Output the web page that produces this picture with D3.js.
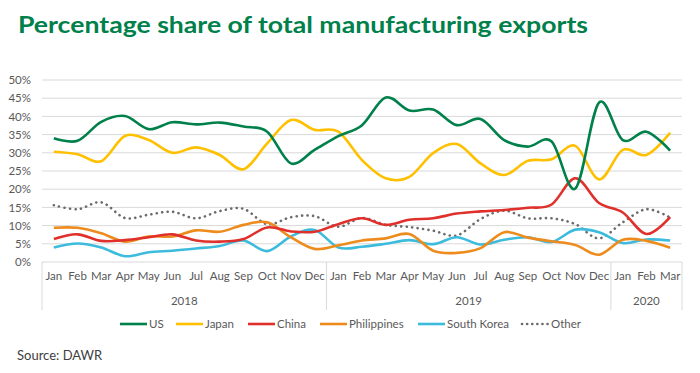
<!DOCTYPE html>
<html><head><meta charset="utf-8">
<script src="https://cdn.jsdelivr.net/npm/d3@7"></script>
<style>
html,body{margin:0;padding:0;background:#fff;}
svg{display:block;font-family:Lato,"Open Sans",sans-serif;}
</style></head>
<body>
<svg id="chart" width="700" height="373"></svg>
<script>
const months = ["Jan","Feb","Mar","Apr","May","Jun","Jul","Aug","Sep","Oct","Nov","Dec",
                "Jan","Feb","Mar","Apr","May","Jun","Jul","Aug","Sep","Oct","Nov","Dec",
                "Jan","Feb","Mar"];
const years = [{label:"2018", n:12},{label:"2019", n:12},{label:"2020", n:3}];
const yTicks = [0,5,10,15,20,25,30,35,40,45,50];

const us          = [34.0,33.3,38.5,40.1,36.5,38.4,37.8,38.3,37.2,35.8,27.1,30.8, 34.6,37.6,45.2,41.6,41.9,37.6,39.3,33.5,31.7,33.1,20.2,43.8, 33.5,35.8,30.6];
const japan       = [30.3,29.6,27.7,34.6,33.5,30.0,31.5,29.4,25.5,32.6,39.0,36.3, 35.8,28.0,23.0,23.4,29.9,32.4,27.1,23.9,27.8,28.2,31.9,22.7, 30.8,29.4,35.5];
const china       = [6.3,7.6,5.8,6.0,6.8,7.6,5.9,5.6,6.3,9.5,8.4,8.3, 10.4,12.0,10.2,11.6,12.0,13.3,13.9,14.3,14.9,15.8,23.0,16.2, 13.6,7.7,12.3];
const philippines = [9.4,9.4,7.9,5.6,7.0,7.0,8.7,8.3,10.2,10.9,6.8,3.6, 4.6,5.9,6.5,7.7,3.1,2.5,3.8,8.2,6.7,5.7,4.7,2.0, 6.1,5.8,3.9];
const southKorea  = [4.0,5.1,4.0,1.6,2.7,3.1,3.7,4.4,5.9,3.0,7.0,8.8, 4.0,4.2,5.0,6.0,4.9,6.8,4.8,6.1,6.8,5.5,8.9,8.2, 5.2,6.2,5.9];
const other       = [15.6,14.5,16.4,12.1,13.0,13.8,12.0,14.0,14.6,10.4,12.3,12.6, 9.7,12.1,10.2,9.6,8.6,7.3,11.8,14.1,12.0,12.0,10.4,6.5, 10.9,14.5,12.2];

const series = [
  {name:"US", values:us, color:"#00804a"},
  {name:"Japan", values:japan, color:"#ffc000"},
  {name:"China", values:china, color:"#e0302b"},
  {name:"Philippines", values:philippines, color:"#ee8b1d"},
  {name:"South Korea", values:southKorea, color:"#3dbbdc"},
  {name:"Other", values:other, color:"#6b6b6b", dotted:true}
];

const svg = d3.select("#chart");
const pLeft = 42, pRight = 682, pTop = 80, pBottom = 262;
const x = d3.scaleBand().domain(d3.range(months.length)).range([pLeft, pRight]).paddingInner(0).paddingOuter(0);
const y = d3.scaleLinear().domain([0,50]).range([pBottom, pTop]);

// title
svg.append("text").attr("x",18).attr("y",33)
  .attr("fill","#00804a").attr("font-weight","bold").attr("font-size",23.5)
  .attr("textLength",570).attr("lengthAdjust","spacingAndGlyphs")
  .text("Percentage share of total manufacturing exports");

// gridlines
svg.append("g").selectAll("line").data(yTicks.filter(d=>d>0)).join("line")
  .attr("x1",pLeft).attr("x2",pRight).attr("y1",d=>y(d)).attr("y2",d=>y(d))
  .attr("stroke","#d9d9d9").attr("stroke-width",1);

// y axis labels
const yAxis = d3.axisLeft(y).tickValues(yTicks).tickFormat(d=>d+"%").tickSize(0).tickPadding(11);
const gy = svg.append("g").attr("transform",`translate(${pLeft},0)`).call(yAxis);
gy.select(".domain").remove();
gy.selectAll("text").attr("fill","#595959").attr("font-size",11.5).attr("font-family","Lato,sans-serif");

// x axis baseline
svg.append("line").attr("x1",pLeft).attr("x2",pRight).attr("y1",pBottom).attr("y2",pBottom)
  .attr("stroke","#d9d9d9").attr("stroke-width",1);

// month labels
const xAxis = d3.axisBottom(x).tickFormat(i=>months[i]).tickSize(0).tickPadding(10);
const gx = svg.append("g").attr("transform",`translate(0,${pBottom})`).call(xAxis);
gx.select(".domain").remove();
gx.selectAll("text").attr("fill","#595959").attr("font-size",11.5).attr("font-family","Lato,sans-serif");

// year groups
let start = 0;
const bounds = [0];
years.forEach(yr => {
  const x0 = x(start), x1 = x(start + yr.n - 1) + x.bandwidth();
  svg.append("text").attr("x",(x0+x1)/2).attr("y",305).attr("text-anchor","middle")
    .attr("fill","#595959").attr("font-size",11.5).text(yr.label);
  start += yr.n;
  bounds.push(start);
});
svg.append("g").selectAll("line").data(bounds).join("line")
  .attr("x1",i=> i===months.length ? pRight : x(i)).attr("x2",i=> i===months.length ? pRight : x(i))
  .attr("y1",pBottom).attr("y2",310)
  .attr("stroke","#d9d9d9").attr("stroke-width",1);

// lines
const line = d3.line().x((d,i)=>x(i)+x.bandwidth()/2).y(d=>y(d)).curve(d3.curveCardinal.tension(0));
const order = ["Other","South Korea","Philippines","China","Japan","US"];
order.forEach(n=>{
  const s = series.find(d=>d.name===n);
  svg.append("path").datum(s.values).attr("d",line)
    .attr("fill","none").attr("stroke",s.color).attr("stroke-width",2.6)
    .attr("stroke-linecap", s.dotted ? "round" : "butt")
    .attr("stroke-dasharray", s.dotted ? "0.1,5.4" : null);
});

// legend
const legendX = [120,176,248,320,418,522];
const lg = svg.append("g");
series.forEach((s,i)=>{
  const g = lg.append("g").attr("transform",`translate(${legendX[i]},324)`);
  g.append("line").attr("x1",0).attr("x2",27).attr("y1",0).attr("y2",0)
    .attr("stroke",s.color).attr("stroke-width",2.6)
    .attr("stroke-linecap", s.dotted ? "round" : "butt")
    .attr("stroke-dasharray", s.dotted ? "0.1,5" : null);
  g.append("text").attr("x",29).attr("y",4).attr("fill","#595959").attr("font-size",11.5).text(s.name);
});

// source
svg.append("text").attr("x",17).attr("y",360).attr("fill","#404040").attr("font-size",13).text("Source: DAWR");
</script>
</body></html>
